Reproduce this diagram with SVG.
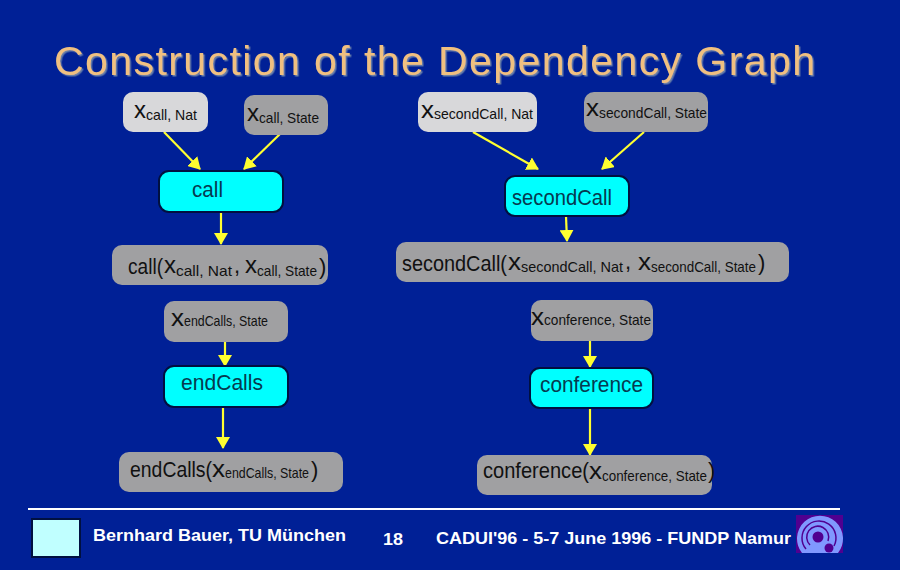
<svg xmlns="http://www.w3.org/2000/svg" width="900" height="570" viewBox="0 0 900 570">
<style>
text{font-family:"Liberation Sans",Arial,sans-serif;fill:#111}
.n{fill:#a0a0a2}
.l{fill:#d8d8da}
.o{fill:#00ffff;stroke:#001040;stroke-width:2}
.m{font-size:22px}
.b{font-size:22px;fill:#063a50}
.x{font-size:23px}
.s{font-size:15px}
.f{font-size:16.5px;font-weight:bold;fill:#fff}
.c{stroke:#ffff30;stroke-width:2.2;fill:none;marker-end:url(#a)}
</style>
<defs>
<marker id="a" markerUnits="userSpaceOnUse" markerWidth="12" markerHeight="14" refX="11" refY="7" orient="auto"><path d="M0 0L12 7L0 14Z" fill="#ffff30"/></marker>
<filter id="sh" x="-2%" y="-10%" width="104%" height="120%"><feDropShadow dx="1.5" dy="1.5" stdDeviation="0.3" flood-color="#6a80a8"/></filter>
</defs>
<rect width="900" height="570" fill="#002096"/>
<text x="54" y="75" font-size="41" textLength="761" lengthAdjust="spacing" style="fill:#f0c080" filter="url(#sh)">Construction of the Dependency Graph</text>
<g id="connectors">
<path class="c" d="M164 132L200 169"/>
<path class="c" d="M280 134L244 169"/>
<path class="c" d="M221 212V244"/>
<path class="c" d="M473 132L538 169"/>
<path class="c" d="M644 132L602 169"/>
<path class="c" d="M566 216L567 241"/>
<path class="c" d="M225 342V366"/>
<path class="c" d="M223 407V448"/>
<path class="c" d="M590 341V367"/>
<path class="c" d="M590 408V455"/>
</g>
<g id="n1"><rect class="l" x="123" y="92" width="85" height="40" rx="10"/><text y="118"><tspan class="x" x="134" textLength="12" lengthAdjust="spacingAndGlyphs">x</tspan><tspan class="s" x="146" y="120" textLength="51" lengthAdjust="spacingAndGlyphs">call, Nat</tspan></text></g>
<g id="n2"><rect class="n" x="244" y="95" width="84" height="40" rx="10"/><text y="121"><tspan class="x" x="247" textLength="12" lengthAdjust="spacingAndGlyphs">x</tspan><tspan class="s" x="259" y="123" textLength="60" lengthAdjust="spacingAndGlyphs">call, State</tspan></text></g>
<g id="n3"><rect class="o" x="159" y="171" width="124" height="41" rx="10"/><text class="b" x="192" y="197" textLength="31" lengthAdjust="spacingAndGlyphs">call</text></g>
<g id="n4"><rect class="n" x="112" y="245" width="216" height="40" rx="10"/><text y="274" class="m"><tspan x="128" textLength="35" lengthAdjust="spacingAndGlyphs">call(</tspan><tspan class="x" x="164" y="273" textLength="12" lengthAdjust="spacingAndGlyphs">x</tspan><tspan class="s" x="176" y="276" textLength="56" lengthAdjust="spacingAndGlyphs">call, Nat</tspan><tspan x="234" y="273">,</tspan><tspan class="x" x="245" y="273" textLength="12" lengthAdjust="spacingAndGlyphs">x</tspan><tspan class="s" x="257" y="276" textLength="60" lengthAdjust="spacingAndGlyphs">call, State</tspan><tspan x="319" y="274">)</tspan></text></g>
<g id="n5"><rect class="l" x="418" y="92" width="119" height="40" rx="10"/><text y="118"><tspan class="x" x="421" textLength="13" lengthAdjust="spacingAndGlyphs">x</tspan><tspan class="s" x="434" y="119" textLength="99" lengthAdjust="spacingAndGlyphs">secondCall, Nat</tspan></text></g>
<g id="n6"><rect class="n" x="584" y="92" width="124" height="40" rx="10"/><text y="116"><tspan class="x" x="586" textLength="13" lengthAdjust="spacingAndGlyphs">x</tspan><tspan class="s" x="599" y="118" textLength="108" lengthAdjust="spacingAndGlyphs">secondCall, State</tspan></text></g>
<g id="n7"><rect class="o" x="505" y="176" width="124" height="40" rx="10"/><text class="b" x="512" y="205" textLength="100" lengthAdjust="spacingAndGlyphs">secondCall</text></g>
<g id="n8"><rect class="n" x="396" y="242" width="393" height="40" rx="10"/><text y="271" class="m"><tspan x="402" textLength="105" lengthAdjust="spacingAndGlyphs">secondCall(</tspan><tspan class="x" x="508" y="270" textLength="13" lengthAdjust="spacingAndGlyphs">x</tspan><tspan class="s" x="521" y="272" textLength="102" lengthAdjust="spacingAndGlyphs">secondCall, Nat</tspan><tspan x="625" y="269">,</tspan><tspan class="x" x="638" y="270" textLength="13" lengthAdjust="spacingAndGlyphs">x</tspan><tspan class="s" x="651" y="272" textLength="105" lengthAdjust="spacingAndGlyphs">secondCall, State</tspan><tspan x="758" y="270">)</tspan></text></g>
<g id="n9"><rect class="n" x="164" y="301" width="124" height="41" rx="10"/><text y="326"><tspan class="x" x="171" textLength="13" lengthAdjust="spacingAndGlyphs">x</tspan><tspan class="s" x="184" y="326" textLength="84" lengthAdjust="spacingAndGlyphs">endCalls, State</tspan></text></g>
<g id="n10"><rect class="o" x="164" y="366" width="124" height="41" rx="10"/><text class="b" x="181" y="390" textLength="82" lengthAdjust="spacingAndGlyphs">endCalls</text></g>
<g id="n11"><rect class="n" x="119" y="452" width="224" height="40" rx="10"/><text y="477" class="m"><tspan x="130" textLength="82" lengthAdjust="spacingAndGlyphs">endCalls(</tspan><tspan class="x" x="212" y="477" textLength="13" lengthAdjust="spacingAndGlyphs">x</tspan><tspan class="s" x="225" y="478" textLength="84" lengthAdjust="spacingAndGlyphs">endCalls, State</tspan><tspan x="311" y="477">)</tspan></text></g>
<g id="n12"><rect class="n" x="531" y="300" width="122" height="41" rx="10"/><text y="325"><tspan class="x" x="531" textLength="13" lengthAdjust="spacingAndGlyphs">x</tspan><tspan class="s" x="544" y="325" textLength="107" lengthAdjust="spacingAndGlyphs">conference, State</tspan></text></g>
<g id="n13"><rect class="o" x="530" y="368" width="123" height="40" rx="10"/><text class="b" x="540" y="392" textLength="103" lengthAdjust="spacingAndGlyphs">conference</text></g>
<g id="n14"><rect class="n" x="477" y="455" width="235" height="40" rx="10"/><text y="478" class="m"><tspan x="483" textLength="106" lengthAdjust="spacingAndGlyphs">conference(</tspan><tspan class="x" x="589" y="479" textLength="13" lengthAdjust="spacingAndGlyphs">x</tspan><tspan class="s" x="602" y="481" textLength="105" lengthAdjust="spacingAndGlyphs">conference, State</tspan><tspan x="708" y="478">)</tspan></text></g>
<path d="M28 509H840" stroke="#fff" stroke-width="2"/>
<rect x="32" y="519" width="48" height="38" fill="#c0ffff" stroke="#001040" stroke-width="2"/>
<text class="f" x="93" y="541" textLength="253" lengthAdjust="spacingAndGlyphs">Bernhard Bauer, TU München</text>
<text class="f" x="383" y="545" textLength="20" lengthAdjust="spacingAndGlyphs">18</text>
<text class="f" x="436" y="544" textLength="355" lengthAdjust="spacingAndGlyphs">CADUI'96 - 5-7 June 1996 - FUNDP Namur</text>
<g id="logo">
<rect x="796" y="515" width="47" height="38" fill="#500090"/>
<path d="M802 553A23 23 0 1 1 838 553Z" fill="#8098ff"/>
<path d="M806 549A17 17 0 1 1 834 546M810 545A11 11 0 1 1 828 541" fill="none" stroke="#500090" stroke-width="1.5"/>
<circle cx="818" cy="537" r="5.5" fill="#500090"/>
<circle cx="829" cy="548" r="4.5" fill="#500090"/>
</g>
</svg>
